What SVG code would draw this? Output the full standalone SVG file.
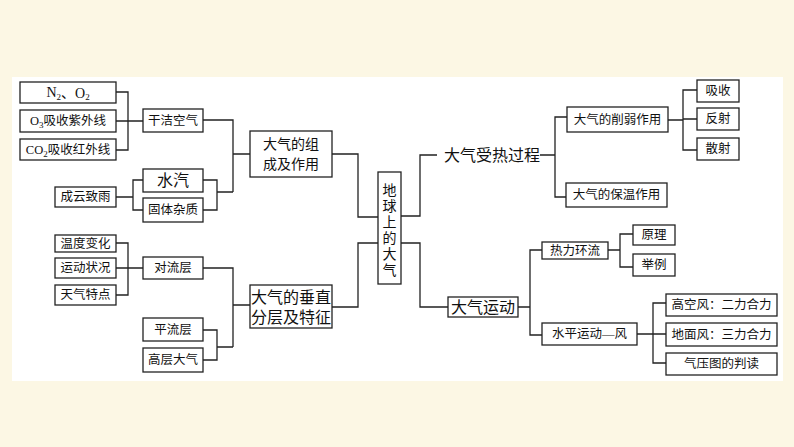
<svg xmlns="http://www.w3.org/2000/svg" width="794" height="447" viewBox="0 0 794 447">
<style>
.b{fill:#fff;stroke:#222;stroke-width:1.3}
.c{fill:none;stroke:#222;stroke-width:1.3}
text{font-family:"Liberation Serif","Noto Sans CJK SC",serif;fill:#111;text-anchor:middle;dominant-baseline:central}
.s{font-size:12.5px}
.m{font-size:14px}
.l{font-size:16px}
</style>
<rect width="794" height="447" fill="#fcf7e4"/>
<rect x="12" y="77" width="771" height="304" fill="#fff"/>
<g id="connectors" class="c">
<path d="M116 92H128V150H116M116 121H143"/>
<path d="M203 120H233V192M233 154H250M203 180H217V210H203M217 192H233"/>
<path d="M116 197H133M143 180H133V210H143"/>
<path d="M332 154H358V217H378M332 307H358V243H378"/>
<path d="M116 243H128V295H116M116 268H143"/>
<path d="M203 268H233V347M233 305H250M203 330H217V360H203M217 347H233"/>
<path d="M400 216H420V155H437M540 155H555M567 117H555V197H566"/>
<path d="M668 120H683M697 90H683V150H697M683 119H697"/>
<path d="M400 243H420V307H448M518 307H530M542 250H530V335H542"/>
<path d="M608 250H620M633 234H620V267H633"/>
<path d="M637 334H653M666 303H653V363H666M653 334H666"/>
</g>
<g id="n2o2"><rect class="b" x="20" y="82" width="96" height="21"/><text class="m" x="68" y="92.5">N<tspan font-size="9" dy="4">2</tspan><tspan dy="-4">、O</tspan><tspan font-size="9" dy="4">2</tspan></text></g>
<g id="o3"><rect class="b" x="20" y="110" width="96" height="22"/><text class="s" x="68" y="121">O<tspan font-size="9" dy="4">3</tspan><tspan dy="-4">吸收紫外线</tspan></text></g>
<g id="co2"><rect class="b" x="20" y="139" width="96" height="21"/><text class="s" x="68" y="149.5">CO<tspan font-size="9" dy="4">2</tspan><tspan dy="-4">吸收红外线</tspan></text></g>
<g id="gjkq"><rect class="b" x="143" y="109" width="60" height="23"/><text class="s" x="173" y="120.5">干洁空气</text></g>
<g id="sq"><rect class="b" x="143" y="169" width="60" height="23"/><text class="l" x="173" y="180.5">水汽</text></g>
<g id="gtzz"><rect class="b" x="143" y="198" width="60" height="24"/><text class="s" x="173" y="210">固体杂质</text></g>
<g id="cyzy"><rect class="b" x="55" y="187" width="61" height="20"/><text class="s" x="85.5" y="197">成云致雨</text></g>
<g id="zc"><rect class="b" x="250" y="131" width="82" height="46"/><text class="m" x="291" y="144">大气的组</text><text class="m" x="291" y="164">成及作用</text></g>
<g id="dq"><rect class="b" x="378" y="172" width="23" height="112"/><text class="m" x="389.5" y="190">地</text><text class="m" x="389.5" y="206">球</text><text class="m" x="389.5" y="222">上</text><text class="m" x="389.5" y="238">的</text><text class="m" x="389.5" y="254">大</text><text class="m" x="389.5" y="270">气</text></g>
<g id="wdbh"><rect class="b" x="55" y="235" width="61" height="17"/><text class="s" x="85.5" y="243.5">温度变化</text></g>
<g id="ydzk"><rect class="b" x="55" y="258" width="61" height="20"/><text class="s" x="85.5" y="268">运动状况</text></g>
<g id="tqtd"><rect class="b" x="55" y="285" width="61" height="20"/><text class="s" x="85.5" y="295">天气特点</text></g>
<g id="dlc"><rect class="b" x="143" y="257" width="60" height="22"/><text class="s" x="173" y="268">对流层</text></g>
<g id="plc"><rect class="b" x="143" y="318" width="60" height="23"/><text class="s" x="173" y="329.5">平流层</text></g>
<g id="gcdq"><rect class="b" x="143" y="348" width="60" height="24"/><text class="s" x="173" y="360">高层大气</text></g>
<g id="czfc"><rect class="b" x="250" y="285" width="82" height="43"/><text class="l" x="291" y="297">大气的垂直</text><text class="l" x="291" y="317">分层及特征</text></g>
<g id="srgc"><text class="l" x="492" y="155">大气受热过程</text></g>
<g id="xrzy"><rect class="b" x="567" y="107" width="101" height="25"/><text class="s" x="617.5" y="119.5">大气的削弱作用</text></g>
<g id="bwzy"><rect class="b" x="566" y="183" width="101" height="24"/><text class="s" x="616.5" y="195">大气的保温作用</text></g>
<g id="xs"><rect class="b" x="697" y="80" width="42" height="22"/><text class="s" x="718" y="91">吸收</text></g>
<g id="fs"><rect class="b" x="697" y="108" width="42" height="22"/><text class="s" x="718" y="119">反射</text></g>
<g id="ss"><rect class="b" x="697" y="138" width="42" height="22"/><text class="s" x="718" y="149">散射</text></g>
<g id="dqyd"><rect class="b" x="448" y="297" width="70" height="20"/><text class="l" x="483" y="307">大气运动</text></g>
<g id="rlhl"><rect class="b" x="542" y="242" width="66" height="17"/><text class="s" x="575" y="250.5">热力环流</text></g>
<g id="spyd"><rect class="b" x="542" y="323" width="95" height="22"/><text class="s" x="589.5" y="334">水平运动—风</text></g>
<g id="yl"><rect class="b" x="633" y="225" width="42" height="20"/><text class="s" x="654" y="235">原理</text></g>
<g id="jl"><rect class="b" x="633" y="254" width="42" height="22"/><text class="s" x="654" y="265">举例</text></g>
<g id="gkf"><rect class="b" x="666" y="294" width="111" height="22"/><text class="s" x="721.5" y="305">高空风：二力合力</text></g>
<g id="dmf"><rect class="b" x="666" y="323" width="111" height="23"/><text class="s" x="721.5" y="334.5">地面风：三力合力</text></g>
<g id="qyt"><rect class="b" x="666" y="353" width="111" height="22"/><text class="s" x="721.5" y="364">气压图的判读</text></g>
</svg>
